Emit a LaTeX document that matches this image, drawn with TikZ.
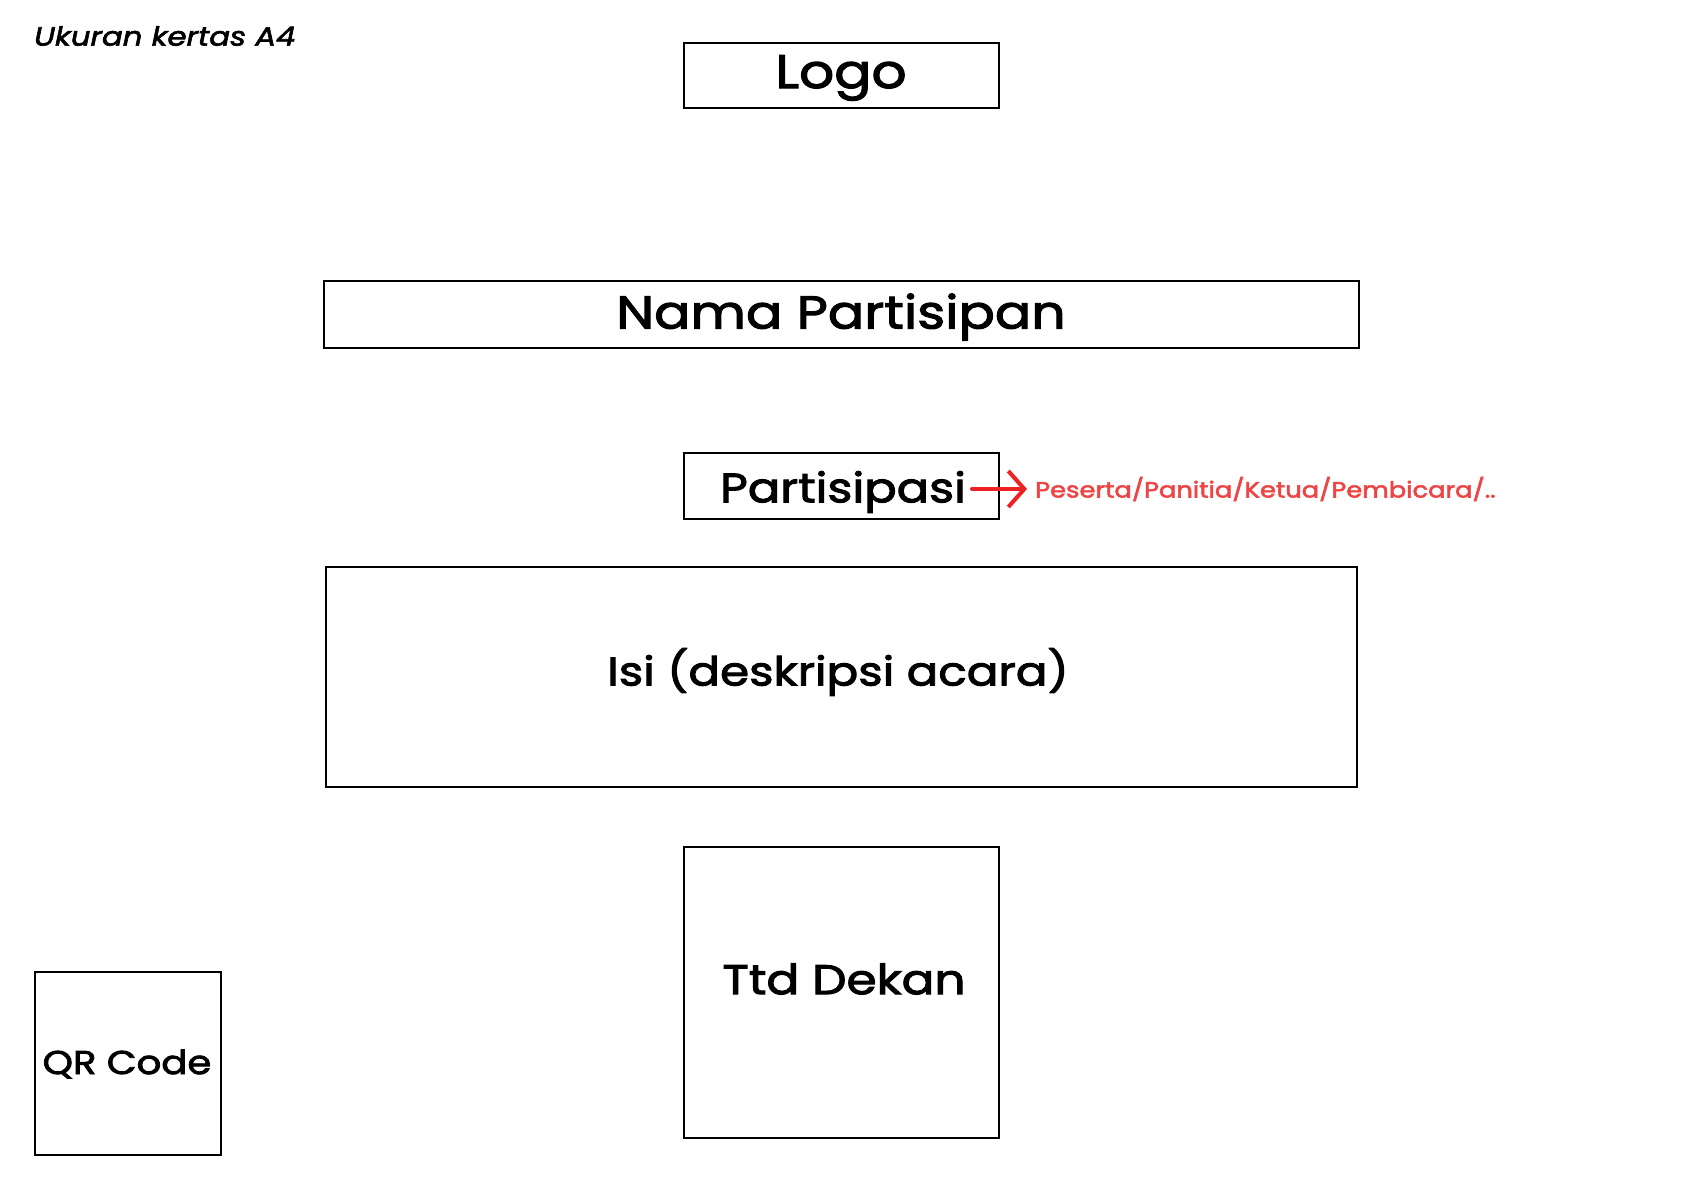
\documentclass[tikz,border=0pt]{standalone}
\usepackage{fontspec}
\setmainfont{Poppins}[FakeStretch=1.17, FakeBold=2.4]
\usetikzlibrary{arrows.meta}
\definecolor{redtxt}{HTML}{EE4444}
\definecolor{redarr}{HTML}{EE2222}
\tikzset{
  frame/.style={draw=black, line width=2.2pt},
  lbl/.style={inner sep=0pt, anchor=center, text=black},
}
\begin{document}
\begin{tikzpicture}[x=1pt,y=-1pt]
\useasboundingbox[fill=white] (0,0) rectangle (1683,1190);
% boxes
\node[frame, minimum width=315pt, minimum height=65pt, inner sep=0pt] (logobox) at (841.5,75.5) {};
\node[frame, minimum width=1035pt, minimum height=67pt, inner sep=0pt] (namabox) at (841.5,314.5) {};
\node[frame, minimum width=315pt, minimum height=66pt, inner sep=0pt] (partbox) at (841.5,486) {};
\node[frame, minimum width=1031pt, minimum height=220pt, inner sep=0pt] (isibox) at (841.5,677) {};
\node[frame, minimum width=315pt, minimum height=291pt, inner sep=0pt] (ttdbox) at (841.5,992.5) {};
\node[frame, minimum width=186pt, minimum height=183pt, inner sep=0pt] (qrbox) at (128,1063.5) {};
% texts
\node[lbl, anchor=west, font=\itshape\fontsize{26.3}{30}\selectfont] (title) at (34,36) {Ukuran kertas A4};
\node[lbl, font=\fontsize{47}{50}\selectfont] (logo) at (841,78) {Logo};
\node[lbl, font=\fontsize{46}{50}\selectfont] (nama) at (841,317) {Nama Partisipan};
\node[lbl, font=\fontsize{41}{44}\selectfont] (part) at (843,492) {Partisipasi};
\node[lbl, font=\fontsize{40}{44}\selectfont] (isi) at (838,672) {Isi (deskripsi acara)};
\node[lbl, font=\fontsize{41.5}{44}\selectfont] (ttd) at (844,979) {Ttd Dekan};
\node[lbl, font=\fontsize{33}{38}\selectfont] (qr) at (127,1064) {QR Code};
\node[lbl, anchor=west, text=redtxt, font=\fontsize{22}{26}\selectfont] (role) at (1035,489) {Peserta/Panitia/Ketua/Pembicara/..};
\coordinate (arrS) at (972,489);
\draw[redarr, line width=4pt, line cap=round, -{Straight Barb[length=16pt,width=36pt,line width=4pt]}] (arrS) -- ([xshift=-8pt]role.west);
\end{tikzpicture}
\end{document}
